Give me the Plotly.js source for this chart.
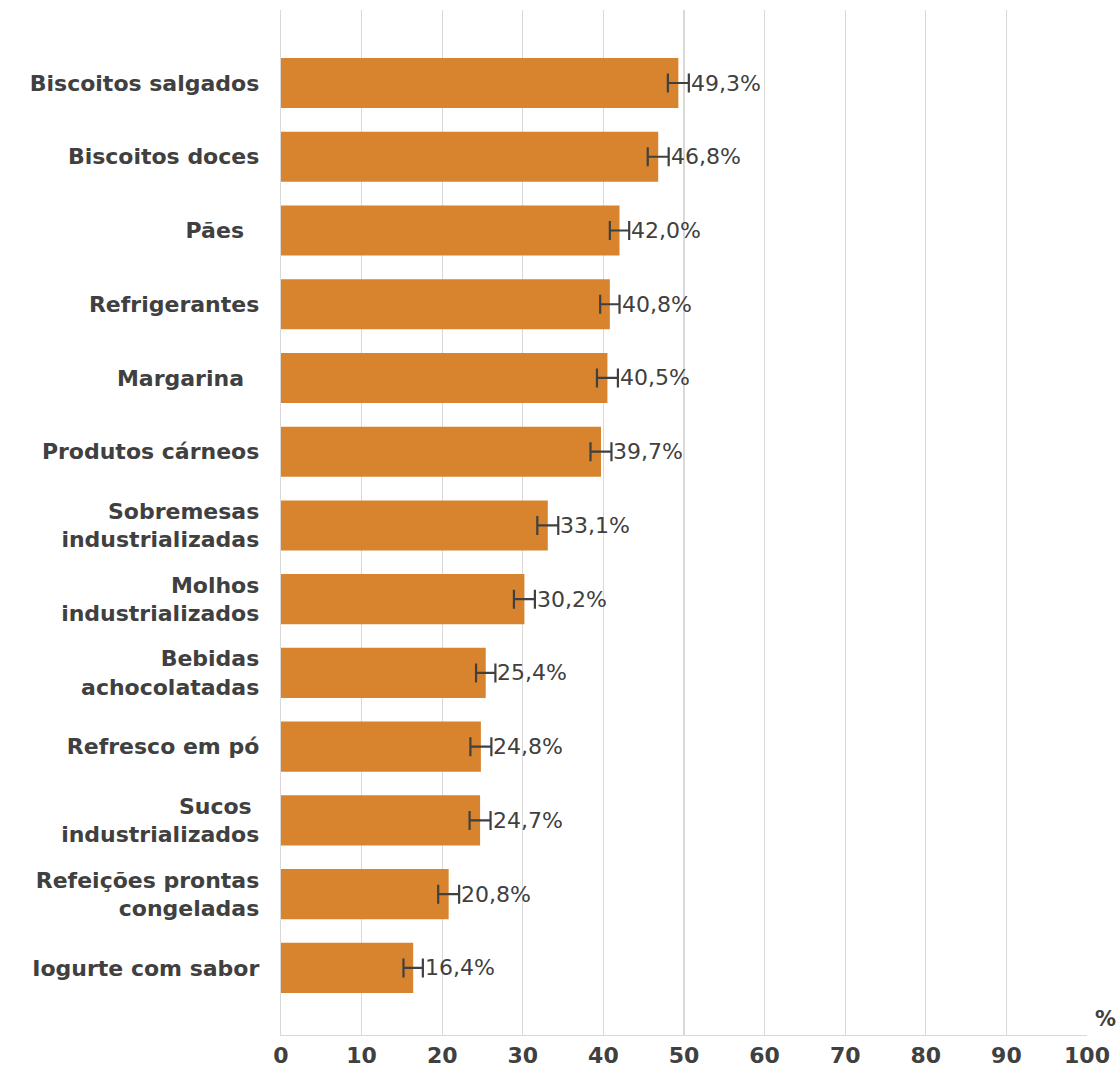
<!DOCTYPE html>
<html>
<head>
<meta charset="utf-8">
<script src="https://cdn.plot.ly/plotly-3.0.1.min.js"></script>
<style>
html,body{margin:0;padding:0;background:#fff;}
#chart{width:1120px;height:1069px;}
</style>
</head>
<body>
<div id="chart"></div>
<script>
const categories = [
  "Biscoitos salgados",
  "Biscoitos doces",
  "Pães\u00a0\u00a0",
  "Refrigerantes",
  "Margarina\u00a0\u00a0",
  "Produtos cárneos",
  "Sobremesas<br>industrializadas",
  "Molhos<br>industrializados",
  "Bebidas<br>achocolatadas",
  "Refresco em pó",
  "Sucos\u00a0<br>industrializados",
  "Refeições prontas<br>congeladas",
  "Iogurte com sabor"
];
const values = [49.3, 46.8, 42.0, 40.8, 40.5, 39.7, 33.1, 30.2, 25.4, 24.8, 24.7, 20.8, 16.4];
const errors = [1.3, 1.3, 1.2, 1.2, 1.3, 1.3, 1.3, 1.3, 1.2, 1.3, 1.3, 1.3, 1.2];
const valueLabels = ["49,3%", "46,8%", "42,0%", "40,8%", "40,5%", "39,7%", "33,1%", "30,2%", "25,4%", "24,8%", "24,7%", "20,8%", "16,4%"];
const xTicks = [0, 10, 20, 30, 40, 50, 60, 70, 80, 90, 100];

const positions = categories.map((c, i) => i);
const textColor = "#404040";
const fontFam = "'DejaVu Sans', 'Open Sans', sans-serif";

const trace = {
  type: "bar",
  orientation: "h",
  x: values,
  y: positions,
  width: 0.68,
  marker: {color: "#D8832E"},
  error_x: {type: "data", array: errors, symmetric: true, color: textColor, thickness: 2.2, width: 9.5},
  hoverinfo: "skip"
};

const annotations = values.map((v, i) => ({
  x: v + errors[i], y: i, xref: "x", yref: "y",
  text: valueLabels[i], showarrow: false, xanchor: "left", yanchor: "middle",
  xshift: 0, font: {family: fontFam, size: 22, color: textColor}
}));
annotations.push({
  x: 1, xref: "paper", y: 0, yref: "paper", yshift: 2,
  text: "<b>%</b>", showarrow: false, xanchor: "left", yanchor: "bottom", xshift: 6,
  font: {family: fontFam, size: 21, color: textColor}
});

const layout = {
  width: 1120, height: 1069,
  margin: {l: 281, r: 33, t: 10, b: 34},
  paper_bgcolor: "#fff", plot_bgcolor: "#fff",
  showlegend: false,
  bargap: 0.32,
  font: {family: fontFam, color: textColor},
  xaxis: {
    range: [0, 100], tickvals: xTicks, ticktext: xTicks.map(t => "<b>" + t + "</b>"),
    showgrid: true, gridcolor: "#d9d9d9", gridwidth: 1.3,
    zeroline: false, showline: true, linecolor: "#d9d9d9", linewidth: 1.3,
    ticks: "", tickfont: {family: fontFam, size: 22, color: textColor},
    fixedrange: true
  },
  yaxis: {
    range: [12.91, -0.99], tickvals: positions,
    ticktext: categories.map(c => "<b>" + c + "</b>"),
    showgrid: false, zeroline: false, showline: true, linecolor: "#d9d9d9", linewidth: 1.3,
    ticks: "outside", ticklen: 16, tickcolor: "rgba(0,0,0,0)",
    tickfont: {family: fontFam, size: 22, color: textColor},
    fixedrange: true
  },
  annotations: annotations
};

Plotly.newPlot("chart", [trace], layout, {displayModeBar: false, staticPlot: true});
</script>
</body>
</html>
